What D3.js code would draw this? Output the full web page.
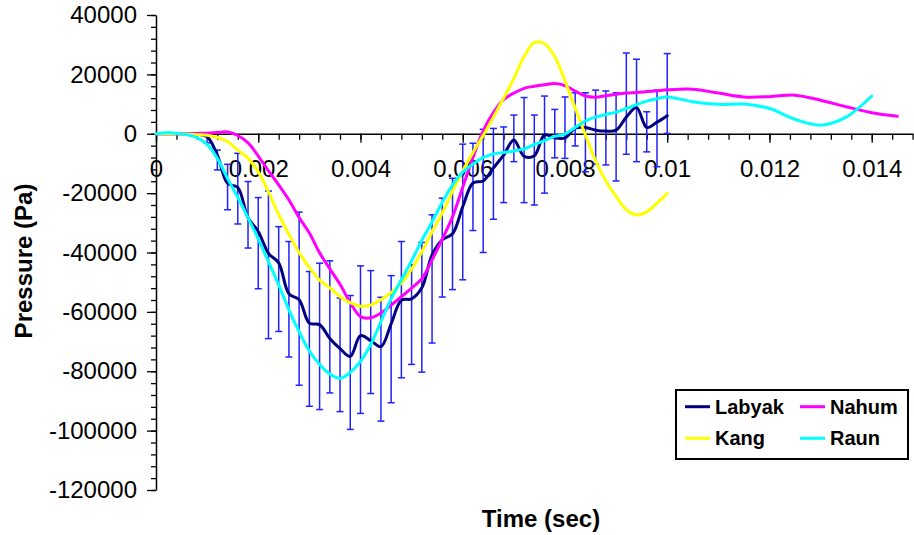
<!DOCTYPE html>
<html>
<head>
<meta charset="utf-8">
<script src="https://cdn.jsdelivr.net/npm/d3@7"></script>
<style>
  html, body { margin: 0; padding: 0; background: #fff; }
  svg { display: block; font-family: "Liberation Sans", Arial, sans-serif; }
</style>
</head>
<body>
<svg id="chart" width="914" height="535"></svg>
<script>
// ---------------- DATA ----------------
const labyakTime = [0,0.0002,0.0004,0.0006,0.0008,0.001,0.0012,0.0014,0.0016,0.0018,0.002,0.0022,0.0024,0.0026,0.0028,0.003,0.0032,0.0034,0.0036,0.0038,0.004,0.0042,0.0044,0.0046,0.0048,0.005,0.0052,0.0054,0.0056,0.0058,0.006,0.0062,0.0064,0.0066,0.0068,0.007,0.0072,0.0074,0.0076,0.0078,0.008,0.0082,0.0084,0.0086,0.0088,0.009,0.0092,0.0094,0.0096,0.0098,0.01];
const labyak = [0,0,0,0,-200,-1000,-7200,-16700,-18100,-28300,-32900,-40300,-43500,-53900,-55900,-63800,-64300,-69000,-72400,-75000,-68000,-69700,-71700,-64000,-56100,-55600,-51900,-40800,-35700,-33700,-24600,-16600,-15900,-11500,-7200,-2100,-7600,-7400,-400,-1400,-1400,1900,2100,1200,900,1200,5600,8800,2100,3900,6100];

const errTime = [0.001,0.0012,0.0014,0.0016,0.0018,0.002,0.0022,0.0024,0.0026,0.0028,0.003,0.0032,0.0034,0.0036,0.0038,0.004,0.0042,0.0044,0.0046,0.0048,0.005,0.0052,0.0054,0.0056,0.0058,0.006,0.0062,0.0064,0.0066,0.0068,0.007,0.0072,0.0074,0.0076,0.0078,0.008,0.0082,0.0084,0.0086,0.0088,0.009,0.0092,0.0094,0.0096,0.0098,0.01];
const errHigh = [-400,-5500,-10300,-6600,-16100,-21500,-19300,-31300,-36300,-26400,-46400,-43600,-42800,-55300,-54500,-44500,-46100,-55100,-47800,-36300,-44100,-36600,-27300,-21700,-15000,-3500,-3200,1500,1800,2300,6300,12200,6300,12700,8200,12400,13800,13800,14700,14400,13800,27200,25100,7400,14700,27000];
const errLow = [-3100,-12200,-25600,-30400,-38500,-52200,-69000,-66600,-75200,-84700,-91800,-92900,-87300,-93600,-99600,-94200,-87500,-96800,-90600,-82200,-77700,-80300,-70500,-55000,-52500,-49200,-32600,-40000,-28800,-23200,-9400,-23200,-24000,-20000,-8100,-8300,-4100,-12800,-10200,-10500,-15900,-6900,-9400,-6100,-11100,100];

const kangTime = labyakTime;
const kang = [0,0,0,-100,-300,-500,-1200,-2600,-5500,-8200,-12800,-19600,-27200,-33900,-40000,-45100,-49300,-51900,-54900,-56900,-58100,-57700,-55900,-53500,-50300,-45600,-39800,-33000,-26700,-19400,-12500,-6300,-600,5600,12000,18600,26000,30700,30300,26000,17800,8600,-400,-9100,-15900,-21100,-25600,-27300,-26300,-23400,-20100];

const nahumTime = [0,0.0002,0.0004,0.0006,0.0008,0.001,0.0012,0.0014,0.0016,0.0018,0.002,0.0022,0.0024,0.0026,0.0028,0.003,0.0032,0.0034,0.0036,0.0038,0.004,0.0042,0.0044,0.0046,0.0048,0.005,0.0052,0.0054,0.0056,0.0058,0.006,0.0062,0.0064,0.0066,0.0068,0.007,0.0072,0.0074,0.0076,0.0078,0.008,0.0082,0.0084,0.0086,0.0088,0.009,0.0092,0.0094,0.0096,0.0098,0.01,0.0105,0.011,0.0115,0.012,0.0125,0.013,0.0135,0.014,0.0145];
const nahum = [0,0,0,0,100,200,400,600,-600,-3100,-7500,-12500,-17200,-22300,-28200,-33400,-40100,-45500,-50700,-56900,-61600,-62000,-60400,-57700,-54900,-52000,-48800,-42500,-35500,-28000,-18000,-8000,1000,7100,11500,13700,15300,16000,16500,16900,16200,14400,12700,12300,12800,13300,13700,13900,14200,14500,14800,15000,13700,12400,12500,13000,11300,9100,7100,5900];

const raunTime = [0,0.0002,0.0004,0.0006,0.0008,0.001,0.0012,0.0014,0.0016,0.0018,0.002,0.0022,0.0024,0.0026,0.0028,0.003,0.0032,0.0034,0.0036,0.0038,0.004,0.0042,0.0044,0.0046,0.0048,0.005,0.0052,0.0054,0.0056,0.0058,0.006,0.0062,0.0064,0.0066,0.0068,0.007,0.0072,0.0074,0.0076,0.0078,0.008,0.0082,0.0084,0.0086,0.0088,0.009,0.0092,0.0094,0.0096,0.0098,0.01,0.0105,0.011,0.0115,0.012,0.0125,0.013,0.0135,0.014];
const raun = [0,300,200,-300,-1300,-3600,-8300,-15100,-21400,-28300,-35400,-43100,-50900,-59300,-66700,-73200,-77700,-80900,-82400,-80400,-76700,-71000,-63300,-55600,-49200,-42800,-35900,-29700,-23100,-17200,-12900,-10200,-8000,-6800,-6300,-5800,-5100,-3600,-2300,-900,-100,2100,4300,5600,6500,7300,8500,9800,11000,11800,12400,10800,9900,10000,8500,4900,2900,5600,12700];

const xTickValues = [0,0.002,0.004,0.006,0.008,0.01,0.012,0.014];
const xTickLabels = ["0","0.002","0.004","0.006","0.008","0.01","0.012","0.014"];
const yTickValues = [40000,20000,0,-20000,-40000,-60000,-80000,-100000,-120000];
const yTickLabels = ["40000","20000","0","-20000","-40000","-60000","-80000","-100000","-120000"];

const seriesNames = ["Labyak","Nahum","Kang","Raun"];
const seriesColors = ["#000080","#FF00FF","#FFFF00","#00FFFF"];

// ---------------- LAYOUT ----------------
const svg = d3.select("#chart");
const x = d3.scaleLinear().domain([0, 0.0148]).range([156, 912.6]);
const y = d3.scaleLinear().domain([-120000, 40000]).range([490, 15]);
const font = "'Liberation Sans', Arial, sans-serif";

// minor ticks
const xMinor = d3.range(0, 0.01481, 0.0004);
const yMinor = d3.range(-120000, 40001, 4000);

const gxMinor = svg.append("g").attr("transform", `translate(0,${y(0)})`)
  .call(d3.axisBottom(x).tickValues(xMinor).tickSize(6).tickSizeOuter(0).tickFormat(""));
gxMinor.select(".domain").remove();
const gyMinor = svg.append("g").attr("transform", `translate(${x(0)},0)`)
  .call(d3.axisLeft(y).tickValues(yMinor).tickSize(5).tickSizeOuter(0).tickFormat(""));
gyMinor.select(".domain").remove();

const gx = svg.append("g").attr("transform", `translate(0,${y(0)})`)
  .call(d3.axisBottom(x).tickValues(xTickValues).tickSize(9).tickSizeOuter(0).tickPadding(17)
    .tickFormat((d, i) => xTickLabels[i]));
const gy = svg.append("g").attr("transform", `translate(${x(0)},0)`)
  .call(d3.axisLeft(y).tickValues(yTickValues).tickSize(9).tickSizeOuter(0).tickPadding(10)
    .tickFormat((d, i) => yTickLabels[i]));

[gx, gy, gxMinor, gyMinor].forEach(g => {
  g.selectAll("line").attr("stroke", "#000").attr("stroke-width", 1.3);
  g.selectAll(".domain").attr("stroke", "#000").attr("stroke-width", 1.5);
  g.selectAll("text").attr("font-size", 24).attr("font-family", font).attr("fill", "#000");
});

// error bars
const eb = svg.append("g").attr("stroke", "#2222ff").attr("stroke-width", 1.5);
errTime.forEach((t, i) => {
  const cx = x(t);
  eb.append("line").attr("x1", cx).attr("x2", cx).attr("y1", y(errHigh[i])).attr("y2", y(errLow[i]));
  eb.append("line").attr("x1", cx - 3.5).attr("x2", cx + 3.5).attr("y1", y(errHigh[i])).attr("y2", y(errHigh[i]));
  eb.append("line").attr("x1", cx - 3.5).attr("x2", cx + 3.5).attr("y1", y(errLow[i])).attr("y2", y(errLow[i]));
});

// lines
const line = d3.line().x(d => x(d[0])).y(d => y(d[1])).curve(d3.curveCatmullRom.alpha(0.5));
const series = [
  [labyakTime, labyak],
  [nahumTime, nahum],
  [kangTime, kang],
  [raunTime, raun]
];
series.forEach((s, k) => {
  const pts = s[0].map((t, i) => [t, s[1][i]]);
  svg.append("path").attr("d", line(pts)).attr("fill", "none")
    .attr("stroke", seriesColors[k]).attr("stroke-width", 3)
    .attr("stroke-linejoin", "round").attr("stroke-linecap", "round");
});

// axis titles
svg.append("text").attr("x", 541).attr("y", 527).attr("text-anchor", "middle")
  .attr("font-family", font).attr("font-size", 24).attr("font-weight", "bold").text("Time (sec)");
svg.append("text").attr("transform", "translate(32,261) rotate(-90)").attr("text-anchor", "middle")
  .attr("font-family", font).attr("font-size", 24).attr("font-weight", "bold").text("Pressure (Pa)");

// legend
const lg = svg.append("g");
lg.append("rect").attr("x", 676).attr("y", 390).attr("width", 232).attr("height", 69)
  .attr("fill", "#fff").attr("stroke", "#000").attr("stroke-width", 2);
const legPos = [[685, 406.7], [800, 406.7], [685, 438.3], [800, 438.3]];
seriesNames.forEach((n, i) => {
  const [lx, ly] = legPos[i];
  lg.append("line").attr("x1", lx).attr("x2", lx + 25).attr("y1", ly).attr("y2", ly)
    .attr("stroke", seriesColors[i]).attr("stroke-width", 3);
  lg.append("text").attr("x", lx + 30).attr("y", ly + 7).attr("font-family", font)
    .attr("font-size", 20).attr("font-weight", "bold").text(n);
});
</script>
</body>
</html>
